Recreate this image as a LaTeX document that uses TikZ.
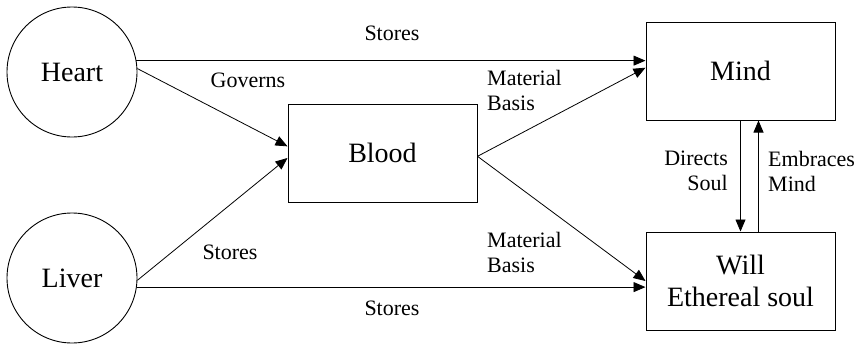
\documentclass[tikz,border=0pt]{standalone}
\usepackage{fontspec}
\setmainfont{Liberation Serif}
\usetikzlibrary{arrows.meta,calc}
\begin{document}
\begin{tikzpicture}[x=1pt,y=-1pt,
  organ/.style={draw,circle,line width=0.9pt,minimum size=130pt,inner sep=0pt,font=\fontsize{28}{32}\selectfont},
  box/.style={draw,rectangle,line width=1pt,minimum width=189pt,minimum height=98pt,inner sep=0pt,align=center,font=\fontsize{28}{32}\selectfont},
  lbl/.style={inner sep=0pt,font=\fontsize{22}{25}\selectfont},
  conn/.style={line width=0.8pt,-{Triangle[length=12pt,width=10pt]}}]
\useasboundingbox (0,0) rectangle (861,343);
\node[organ] (heart) at (72,72) {Heart};
\node[organ] (liver) at (72,278) {Liver};
\node[box] (blood) at (382.5,153) {Blood};
\node[box] (mind) at (740.5,71) {Mind};
\node[box] (will) at (740.5,281) {Will\\Ethereal soul};
% connectors
\draw[conn] (heart.10.6) -- (heart.10.6 -| mind.west);
\draw[conn] (heart.3.5) -- (blood.176.4);
\draw[conn] (liver.-2) -- (blood.183);
\draw[conn] (liver.-8) -- (liver.-8 -| will.west);
\draw[conn] (blood.-2) -- (mind.178);
\draw[conn] (blood.-2) -- (will.west);
\draw[conn] (mind.south) -- (will.north);
\draw[conn] ([xshift=18pt]will.north) -- ([xshift=18pt]mind.south);
% labels
\node[lbl] (l1) at (392,33) {Stores};
\node[lbl] (l2) at (248,80) {Governs};
\node[lbl,anchor=west,align=left] (l3) at (487,90) {Material\\Basis};
\node[lbl] (l4) at (230,252) {Stores};
\node[lbl,anchor=west,align=left] (l5) at (487,252) {Material\\Basis};
\node[lbl] (l6) at (392,308) {Stores};
\node[lbl,anchor=east,align=right] (l7) at (728,171) {Directs\\Soul};
\node[lbl,anchor=west,align=left] (l8) at (768,171) {Embraces\\Mind};
\end{tikzpicture}
\end{document}
